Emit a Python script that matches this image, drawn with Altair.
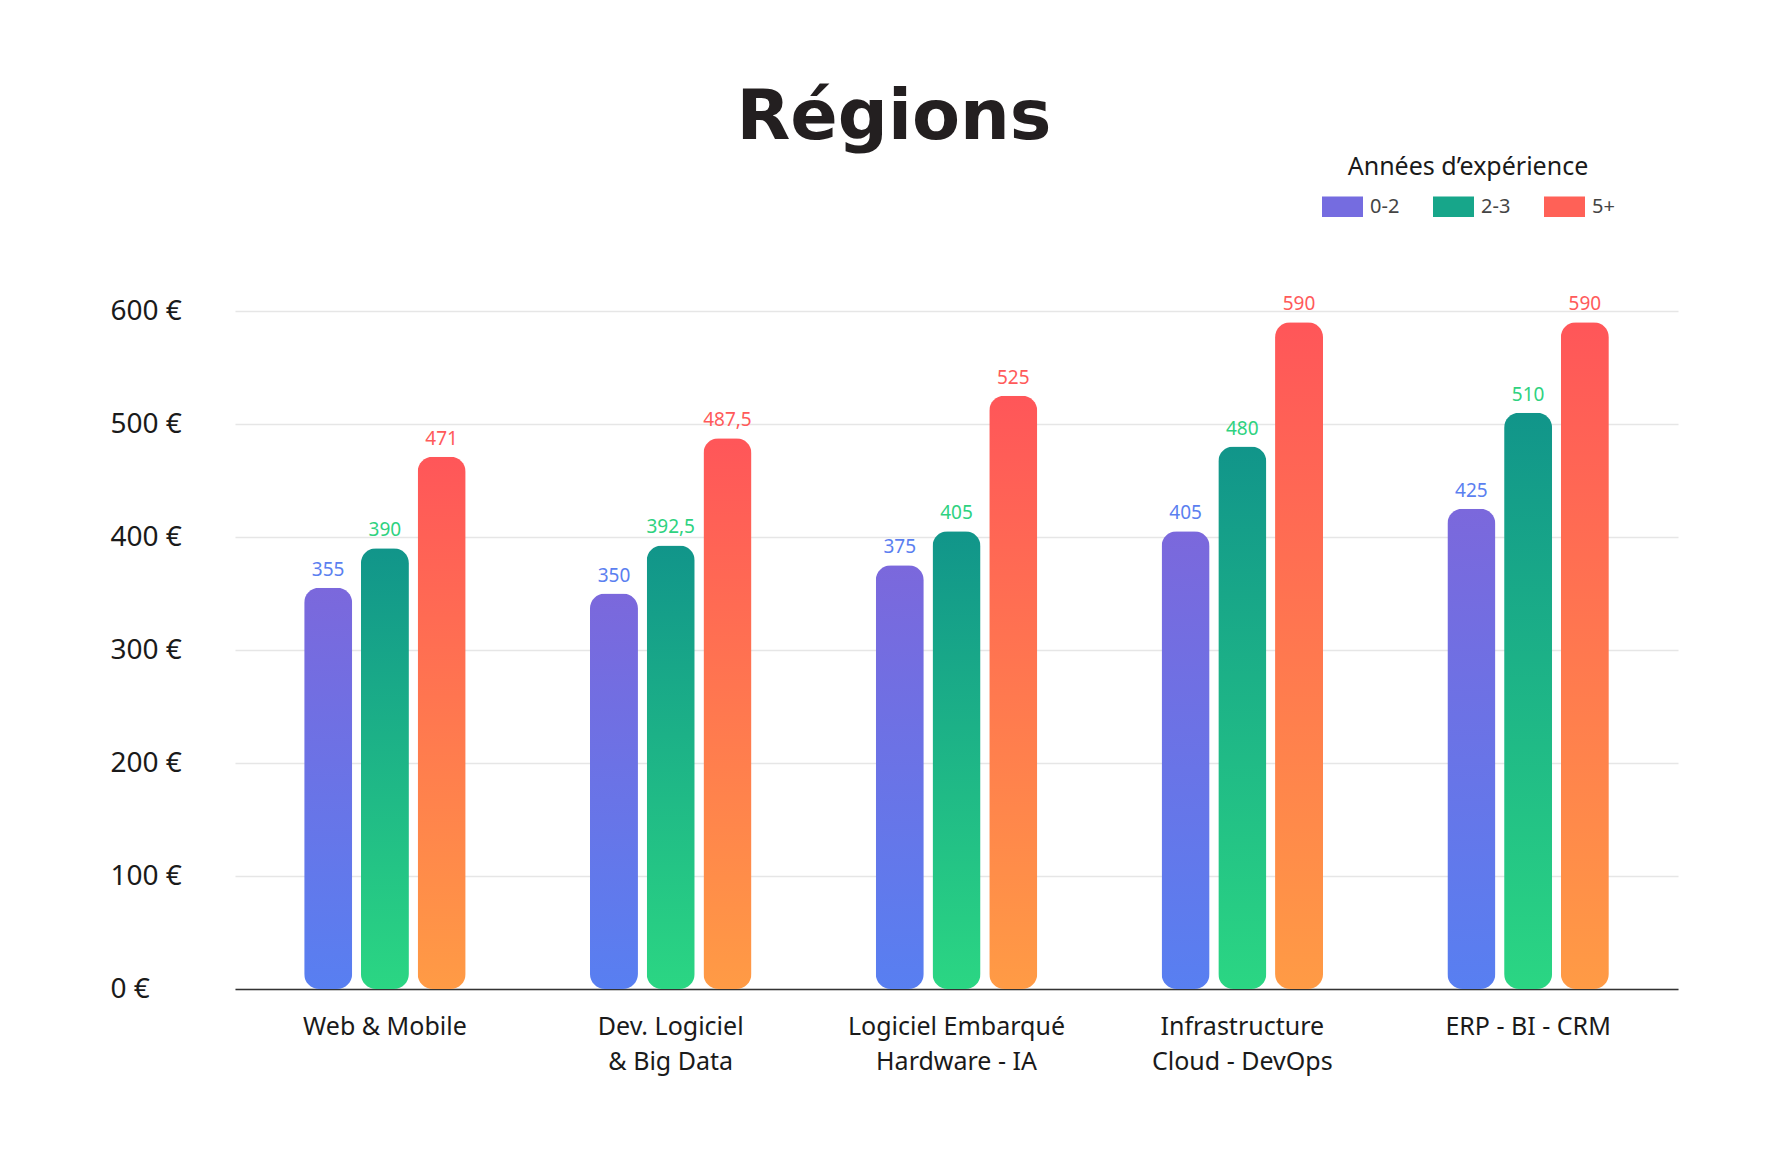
import altair as alt
import pandas as pd

categories = [
    "Web & Mobile",
    "Dev. Logiciel\n& Big Data",
    "Logiciel Embarqué\nHardware - IA",
    "Infrastructure\nCloud - DevOps",
    "ERP - BI - CRM",
]
series = ["0-2", "2-3", "5+"]
values_0_2 = [355, 350, 375, 405, 425]
values_2_3 = [390, 392.5, 405, 480, 510]
values_5p = [471, 487.5, 525, 590, 590]
y_ticks = [0, 100, 200, 300, 400, 500, 600]

swatch_colors = ["#756ce0", "#17a68a", "#ff6157"]
grad_top = ["#7b68dc", "#11958a", "#ff5659"]
grad_bottom = ["#587ff1", "#2bd683", "#ff9b45"]
label_colors = ["#5b7ff0", "#2ed280", "#ff5a5a"]

FONT = "Noto Sans"


def fmt(v):
    return str(int(v)) if float(v).is_integer() else str(v).replace(".", ",")


rows = []
for s, vals in zip(series, [values_0_2, values_2_3, values_5p]):
    for c, v in zip(categories, vals):
        rows.append({"cat": c, "serie": s, "value": v, "label": fmt(v)})
df = pd.DataFrame(rows)

x_enc = alt.X(
    "cat:N",
    sort=categories,
    scale=alt.Scale(paddingInner=0.435, paddingOuter=0.242),
    axis=alt.Axis(
        title=None,
        labelAngle=0,
        labelExpr="split(datum.label, '\\n')",
        labelFont=FONT,
        labelFontSize=25,
        labelColor="#1a1a1a",
        labelLineHeight=35,
        labelPadding=25,
        labelLimit=500,
        ticks=False,
        domain=True,
        domainColor="#333333",
        domainWidth=1.5,
        grid=False,
    ),
)
xo_enc = alt.XOffset(
    "serie:N",
    sort=series,
    scale=alt.Scale(domain=series, paddingInner=0.154, paddingOuter=0),
)
y_enc = alt.Y(
    "value:Q",
    scale=alt.Scale(domain=[0, 600], nice=False),
    axis=alt.Axis(
        title=None,
        values=y_ticks,
        labelExpr="datum.value + ' €'",
        labelFont=FONT,
        labelFontSize=28,
        labelColor="#1a1a1a",
        labelAlign="left",
        labelPadding=125,
        ticks=False,
        domain=False,
        grid=True,
        gridColor="#e6e6e6",
        gridWidth=1.5,
    ),
)

legend_layer = (
    alt.Chart(df)
    .transform_filter("datum.value < 0")
    .mark_bar()
    .encode(
        x=x_enc,
        y=y_enc,
        color=alt.Color(
            "serie:N",
            scale=alt.Scale(domain=series, range=swatch_colors),
            legend=alt.Legend(
                title="Années d’expérience",
                orient="none",
                legendX=1087,
                legendY=-156,
                direction="horizontal",
                columns=3,
                titleAnchor="middle",
                titleFont=FONT,
                titleFontSize=25,
                titleFontWeight="normal",
                titleColor="#1a1a1a",
                titlePadding=6,
                titleLimit=600,
                labelFont=FONT,
                labelFontSize=20,
                labelColor="#444444",
                labelOffset=7,
                columnPadding=33,
                symbolType="M-1,-0.5L1,-0.5L1,0.5L-1,0.5Z",
                symbolSize=1681,
                symbolStrokeWidth=0,
                padding=0,
            ),
        ),
    )
)

layers = [legend_layer]
for i, s in enumerate(series):
    grad = alt.LinearGradient(
        gradient="linear",
        stops=[
            alt.GradientStop(color=grad_top[i], offset=0),
            alt.GradientStop(color=grad_bottom[i], offset=1),
        ],
        x1=0,
        x2=0,
        y1=0,
        y2=1,
    )
    bars = (
        alt.Chart(df)
        .transform_filter(alt.datum.serie == s)
        .mark_bar(cornerRadius=15, color=grad)
        .encode(x=x_enc, xOffset=xo_enc, y=y_enc)
    )
    texts = (
        alt.Chart(df)
        .transform_filter(alt.datum.serie == s)
        .mark_text(
            dy=-12,
            baseline="alphabetic",
            font=FONT,
            fontSize=19,
            color=label_colors[i],
        )
        .encode(x=x_enc, xOffset=xo_enc, y=y_enc, text="label:N")
    )
    layers += [bars, texts]

chart = (
    alt.layer(*layers)
    .properties(
        width=1443,
        height=678,
        background="white",
        autosize=alt.AutoSizeParams(type="none"),
        padding={"left": 227, "top": 303, "right": 70, "bottom": 140},
        title=alt.TitleParams(
            "Régions",
            font="DejaVu Sans",
            fontSize=70,
            fontWeight="bold",
            color="#231f20",
            anchor="middle",
            frame="bounds",
            offset=1,
        ),
    )
    .configure_view(stroke="transparent", strokeWidth=0)
)

chart.save("out.html", embed_options={"renderer": "svg", "actions": False})
